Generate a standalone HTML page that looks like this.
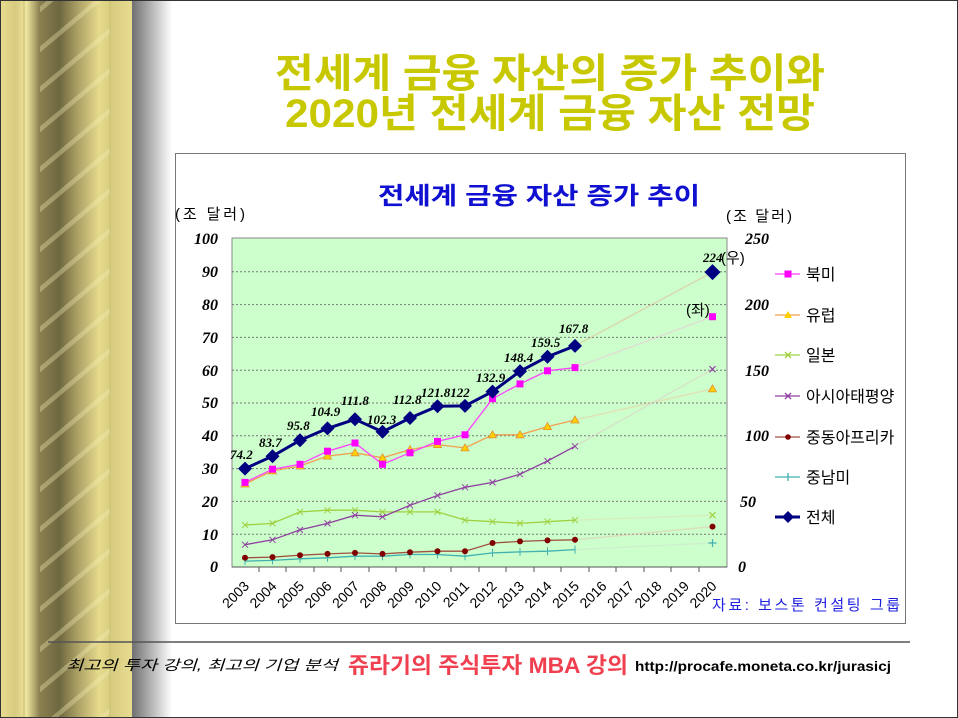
<!DOCTYPE html>
<html><head><meta charset="utf-8"><style>
html,body{margin:0;padding:0;width:958px;height:718px;overflow:hidden;background:#fff}
svg{display:block}
text{font-family:"Liberation Sans","Noto Sans CJK KR",sans-serif}
.it{font-family:"Liberation Serif","Noto Serif CJK SC",serif;font-style:italic;font-weight:bold;font-size:16px}
.lb{font-family:"Liberation Serif","Noto Serif CJK SC",serif;font-style:italic;font-weight:bold;font-size:13px}
.lg{font-size:16px;fill:#000}
</style></head><body>
<svg width="958" height="718" viewBox="0 0 958 718" xmlns="http://www.w3.org/2000/svg">
<defs>
<linearGradient id="gold" x1="0" x2="1" y1="0" y2="0">
<stop offset="0" stop-color="#e8dc90"/><stop offset="0.12" stop-color="#d8cb80"/>
<stop offset="0.2" stop-color="#f0e6a0"/><stop offset="0.3" stop-color="#8a8050"/>
<stop offset="0.45" stop-color="#6e6840"/><stop offset="0.6" stop-color="#b0a468"/>
<stop offset="0.75" stop-color="#e6da8c"/><stop offset="0.85" stop-color="#d8cc80"/>
<stop offset="1" stop-color="#e8dc90"/></linearGradient>
<linearGradient id="shd" x1="0" x2="1"><stop offset="0" stop-color="#707070"/><stop offset="1" stop-color="#ffffff"/></linearGradient>
<pattern id="stripe" width="60" height="40" patternUnits="userSpaceOnUse" patternTransform="skewY(-40)">
<rect x="0" y="0" width="60" height="6" fill="#f5eeb8" opacity="0.35"/></pattern>
</defs>
<rect x="0" y="0" width="132" height="718" fill="url(#gold)"/>
<rect x="40" y="0" width="70" height="718" fill="url(#stripe)"/>
<line x1="24" y1="0" x2="24" y2="718" stroke="#c8bc70" stroke-width="1"/>
<line x1="110" y1="0" x2="110" y2="718" stroke="#c8bc70" stroke-width="1"/>
<rect x="132" y="0" width="40" height="718" fill="url(#shd)"/>
<rect x="0.5" y="0.5" width="957" height="717" fill="none" stroke="#333"/>

<text x="275" y="87" textLength="550" lengthAdjust="spacingAndGlyphs" font-size="40" font-weight="bold" fill="#c8c800">전세계 금융 자산의 증가 추이와</text>
<text x="285" y="127" textLength="530" lengthAdjust="spacingAndGlyphs" font-size="40" font-weight="bold" fill="#c8c800">2020년 전세계 금융 자산 전망</text>

<rect x="175.5" y="153.5" width="730" height="470" fill="#fff" stroke="#777"/>
<text x="378" y="204" textLength="322" lengthAdjust="spacingAndGlyphs" font-size="24" font-weight="bold" fill="#1010d0" font-family="Noto Serif CJK SC,serif">전세계 금융 자산 증가 추이</text>
<text x="175" y="219" font-size="15" textLength="70" fill="#000">(조 달러)</text>
<text x="726" y="221" font-size="15" textLength="66" fill="#000">(조 달러)</text>

<rect x="232" y="238" width="495" height="329" fill="#ccffcc" stroke="#888"/>
<g stroke="#777" stroke-dasharray="2,2" stroke-width="1">
<line x1="232" x2="727" y1="271.8" y2="271.8"/><line x1="232" x2="727" y1="304.6" y2="304.6"/>
<line x1="232" x2="727" y1="337.4" y2="337.4"/><line x1="232" x2="727" y1="370.2" y2="370.2"/>
<line x1="232" x2="727" y1="403" y2="403"/><line x1="232" x2="727" y1="435.8" y2="435.8"/>
<line x1="232" x2="727" y1="468.6" y2="468.6"/><line x1="232" x2="727" y1="501.4" y2="501.4"/>
<line x1="232" x2="727" y1="534.2" y2="534.2"/></g>
<g stroke="#555"><line x1="232" y1="567" x2="727" y2="567"/>
<line x1="259" y1="567" x2="259" y2="572"/><line x1="286" y1="567" x2="286" y2="572"/><line x1="314" y1="567" x2="314" y2="572"/><line x1="341" y1="567" x2="341" y2="572"/><line x1="369" y1="567" x2="369" y2="572"/><line x1="396" y1="567" x2="396" y2="572"/><line x1="424" y1="567" x2="424" y2="572"/><line x1="451" y1="567" x2="451" y2="572"/><line x1="479" y1="567" x2="479" y2="572"/><line x1="506" y1="567" x2="506" y2="572"/><line x1="534" y1="567" x2="534" y2="572"/><line x1="561" y1="567" x2="561" y2="572"/><line x1="589" y1="567" x2="589" y2="572"/><line x1="616" y1="567" x2="616" y2="572"/><line x1="644" y1="567" x2="644" y2="572"/><line x1="671" y1="567" x2="671" y2="572"/><line x1="699" y1="567" x2="699" y2="572"/></g>

<g text-anchor="end">
<text x="218" y="244" class="it">100</text><text x="218" y="277" class="it">90</text><text x="218" y="310" class="it">80</text><text x="218" y="343" class="it">70</text><text x="218" y="376" class="it">60</text><text x="218" y="408" class="it">50</text><text x="218" y="441" class="it">40</text><text x="218" y="474" class="it">30</text><text x="218" y="507" class="it">20</text><text x="218" y="540" class="it">10</text><text x="218" y="572" class="it">0</text>
</g>
<g text-anchor="end">
<text x="769" y="244" class="it">250</text><text x="769" y="310" class="it">200</text><text x="769" y="376" class="it">150</text><text x="769" y="441" class="it">100</text><text x="756" y="507" class="it">50</text><text x="746" y="572" class="it">0</text>
</g>
<g font-size="14" fill="#000" text-anchor="end">
<text transform="translate(250,587) rotate(-45)">2003</text><text transform="translate(277.5,587) rotate(-45)">2004</text><text transform="translate(305,587) rotate(-45)">2005</text><text transform="translate(332.5,587) rotate(-45)">2006</text><text transform="translate(360,587) rotate(-45)">2007</text><text transform="translate(387.5,587) rotate(-45)">2008</text><text transform="translate(415,587) rotate(-45)">2009</text><text transform="translate(442.5,587) rotate(-45)">2010</text><text transform="translate(470,587) rotate(-45)">2011</text><text transform="translate(497.5,587) rotate(-45)">2012</text><text transform="translate(525,587) rotate(-45)">2013</text><text transform="translate(552.5,587) rotate(-45)">2014</text><text transform="translate(580,587) rotate(-45)">2015</text><text transform="translate(607.5,587) rotate(-45)">2016</text><text transform="translate(635,587) rotate(-45)">2017</text><text transform="translate(662.5,587) rotate(-45)">2018</text><text transform="translate(690,587) rotate(-45)">2019</text><text transform="translate(717.5,587) rotate(-45)">2020</text>
</g>
<text x="712" y="610" font-size="15" textLength="188" fill="#2020e0">자료: 보스톤 컨설팅 그룹</text>

<g stroke-width="1.5" opacity="0.5">
<line x1="575" y1="345.9" x2="712.5" y2="272.1" stroke="#e8b090"/>
<line x1="575" y1="367.6" x2="712.5" y2="316.7" stroke="#f0c0d8"/>
<line x1="575" y1="420" x2="712.5" y2="388.9" stroke="#f0c8a0"/>
<line x1="575" y1="520.1" x2="712.5" y2="515.2" stroke="#e0e0b0"/>
<line x1="575" y1="446.3" x2="712.5" y2="369.2" stroke="#e0c8c8"/>
<line x1="575" y1="539.8" x2="712.5" y2="526.6" stroke="#e8c0b0"/>
<line x1="575" y1="549.6" x2="712.5" y2="543" stroke="#d0e0d0"/>
</g>

<polyline fill="none" stroke="#40b0b0" stroke-width="1.3" points="245,561.1 272.5,560.4 300,558.8 327.5,557.8 355,556.2 382.5,556.2 410,554.5 437.5,554.5 465,556.2 492.5,552.9 520,551.9 547.5,551.2 575,549.6"/>
<g stroke="#40b0b0" stroke-width="1"><path d="M245,557v8M272.5,556.4v8M300,554.8v8M327.5,553.8v8M355,552.2v8M382.5,552.2v8M410,550.5v8M437.5,550.5v8M465,552.2v8M492.5,548.9v8M520,547.9v8M547.5,547.2v8M575,545.6v8"/></g>
<polyline fill="none" stroke="#a05040" stroke-width="1.3" points="245,557.8 272.5,557.1 300,555.2 327.5,553.9 355,552.9 382.5,553.9 410,552.2 437.5,551.2 465,551.2 492.5,543 520,541.4 547.5,540.4 575,539.8"/>
<g fill="#800000"><circle cx="245" cy="557.8" r="3"/><circle cx="272.5" cy="557.1" r="3"/><circle cx="300" cy="555.2" r="3"/><circle cx="327.5" cy="553.9" r="3"/><circle cx="355" cy="552.9" r="3"/><circle cx="382.5" cy="553.9" r="3"/><circle cx="410" cy="552.2" r="3"/><circle cx="437.5" cy="551.2" r="3"/><circle cx="465" cy="551.2" r="3"/><circle cx="492.5" cy="543" r="3"/><circle cx="520" cy="541.4" r="3"/><circle cx="547.5" cy="540.4" r="3"/><circle cx="575" cy="539.8" r="3"/><circle cx="712.5" cy="526.6" r="3"/></g>
<polyline fill="none" stroke="#a0d040" stroke-width="1.3" points="245,525 272.5,523.4 300,511.9 327.5,510.2 355,510.2 382.5,511.9 410,511.9 437.5,511.9 465,520.1 492.5,521.7 520,523.4 547.5,521.7 575,520.1"/>
<g stroke="#a0d040" stroke-width="1"><path d="M242,522l6,6M248,522l-6,6M269.5,520.4l6,6M275.5,520.4l-6,6M297,508.9l6,6M303,508.9l-6,6M324.5,507.2l6,6M330.5,507.2l-6,6M352,507.2l6,6M358,507.2l-6,6M379.5,508.9l6,6M385.5,508.9l-6,6M407,508.9l6,6M413,508.9l-6,6M434.5,508.9l6,6M440.5,508.9l-6,6M462,517.1l6,6M468,517.1l-6,6M489.5,518.7l6,6M495.5,518.7l-6,6M517,520.4l6,6M523,520.4l-6,6M544.5,518.7l6,6M550.5,518.7l-6,6M572,517.1l6,6M578,517.1l-6,6"/></g>
<polyline fill="none" stroke="#9040a0" stroke-width="1.3" points="245,544.7 272.5,539.8 300,529.9 327.5,523.4 355,515.2 382.5,516.8 410,505.3 437.5,495.5 465,487.3 492.5,482.4 520,474.2 547.5,461 575,446.3"/>
<g stroke="#9040a0" stroke-width="1"><path d="M242,541.7l6,6M248,541.7l-6,6M269.5,536.8l6,6M275.5,536.8l-6,6M297,526.9l6,6M303,526.9l-6,6M324.5,520.4l6,6M330.5,520.4l-6,6M352,512.2l6,6M358,512.2l-6,6M379.5,513.8l6,6M385.5,513.8l-6,6M407,502.3l6,6M413,502.3l-6,6M434.5,492.5l6,6M440.5,492.5l-6,6M462,484.3l6,6M468,484.3l-6,6M489.5,479.4l6,6M495.5,479.4l-6,6M517,471.2l6,6M523,471.2l-6,6M544.5,458l6,6M550.5,458l-6,6M572,443.3l6,6M578,443.3l-6,6"/></g>
<polyline fill="none" stroke="#f0a050" stroke-width="1.3" points="245,484 272.5,470.9 300,466 327.5,456.1 355,452.8 382.5,457.8 410,449.6 437.5,444.6 465,447.9 492.5,434.8 520,434.8 547.5,426.6 575,420"/>
<g fill="#ffd000" stroke="#e09030" stroke-width="0.8"><path d="M245,480l4,7h-8z"/><path d="M272.5,466.9l4,7h-8z"/><path d="M300,462l4,7h-8z"/><path d="M327.5,452.1l4,7h-8z"/><path d="M355,448.8l4,7h-8z"/><path d="M382.5,453.8l4,7h-8z"/><path d="M410,445.6l4,7h-8z"/><path d="M437.5,440.6l4,7h-8z"/><path d="M465,443.9l4,7h-8z"/><path d="M492.5,430.8l4,7h-8z"/><path d="M520,430.8l4,7h-8z"/><path d="M547.5,422.6l4,7h-8z"/><path d="M575,416l4,7h-8z"/><path d="M712.5,384.9l4,7h-8z"/></g>
<polyline fill="none" stroke="#ff40ff" stroke-width="1.3" points="245,482.4 272.5,469.2 300,464.3 327.5,451.2 355,443 382.5,464.3 410,452.8 437.5,441.4 465,434.8 492.5,398.7 520,383.9 547.5,370.8 575,367.6"/>
<g fill="#ff00ff"><rect x="241.5" y="478.9" width="7" height="7"/><rect x="269" y="465.7" width="7" height="7"/><rect x="296.5" y="460.8" width="7" height="7"/><rect x="324" y="447.7" width="7" height="7"/><rect x="351.5" y="439.5" width="7" height="7"/><rect x="379" y="460.8" width="7" height="7"/><rect x="406.5" y="449.3" width="7" height="7"/><rect x="434" y="437.9" width="7" height="7"/><rect x="461.5" y="431.3" width="7" height="7"/><rect x="489" y="395.2" width="7" height="7"/><rect x="516.5" y="380.4" width="7" height="7"/><rect x="544" y="367.3" width="7" height="7"/><rect x="571.5" y="364.1" width="7" height="7"/><rect x="709" y="313.2" width="7" height="7"/></g>
<g stroke="#a0d040" stroke-width="1.2"><path d="M709.5,512.2l6,6M715.5,512.2l-6,6"/></g>
<g stroke="#9040a0" stroke-width="1.2"><path d="M709.5,366.2l6,6M715.5,366.2l-6,6"/></g>
<g stroke="#40b0b0" stroke-width="1.2"><path d="M712.5,539v8M708.5,543h8"/></g>
<polyline fill="none" stroke="#000080" stroke-width="3" points="245,468.6 272.5,456.2 300,440.3 327.5,428.4 355,419.3 382.5,431.8 410,418 437.5,406.2 465,405.9 492.5,391.6 520,371.3 547.5,356.7 575,345.9"/>
<g fill="#000080"><path d="M245,461.6l7,7-7,7-7-7z"/><path d="M272.5,449.2l7,7-7,7-7-7z"/><path d="M300,433.3l7,7-7,7-7-7z"/><path d="M327.5,421.4l7,7-7,7-7-7z"/><path d="M355,412.3l7,7-7,7-7-7z"/><path d="M382.5,424.8l7,7-7,7-7-7z"/><path d="M410,411l7,7-7,7-7-7z"/><path d="M437.5,399.2l7,7-7,7-7-7z"/><path d="M465,398.9l7,7-7,7-7-7z"/><path d="M492.5,384.6l7,7-7,7-7-7z"/><path d="M520,364.3l7,7-7,7-7-7z"/><path d="M547.5,349.7l7,7-7,7-7-7z"/><path d="M575,338.9l7,7-7,7-7-7z"/><path d="M712.5,264.1l8,8-8,8-8-8z"/></g>
<g fill="#000">
<text x="230" y="459" class="lb">74.2</text><text x="259" y="447" class="lb">83.7</text><text x="287" y="430" class="lb">95.8</text><text x="311" y="416" class="lb">104.9</text><text x="341" y="405" class="lb">111.8</text><text x="367" y="424" class="lb">102.3</text><text x="393" y="404" class="lb">112.8</text><text x="421" y="397" class="lb">121.8122</text><text x="476" y="382" class="lb">132.9</text><text x="504" y="362" class="lb">148.4</text><text x="531" y="347" class="lb">159.5</text><text x="559" y="333" class="lb">167.8</text><text x="703" y="262" class="lb">224</text>
</g>
<text x="721" y="263" font-size="15" fill="#000">(우)</text>
<text x="686" y="315" font-size="15" fill="#000">(좌)</text>

<g stroke-width="1.3">
<line x1="775" y1="274" x2="800" y2="274" stroke="#ff40ff"/><rect x="784.5" y="270.5" width="7" height="7" fill="#ff00ff"/>
<line x1="775" y1="315" x2="800" y2="315" stroke="#f0a050"/><path d="M788,311l4,7h-8z" fill="#ffd000"/>
<line x1="775" y1="355" x2="800" y2="355" stroke="#a0d040"/><path d="M785,352l6,6M791,352l-6,6" stroke="#a0d040"/>
<line x1="775" y1="396" x2="800" y2="396" stroke="#9040a0"/><path d="M785,393l6,6M791,393l-6,6" stroke="#9040a0"/>
<line x1="775" y1="437" x2="800" y2="437" stroke="#a05040"/><circle cx="788" cy="437" r="2.8" fill="#800000"/>
<line x1="775" y1="477" x2="800" y2="477" stroke="#40b0b0"/><path d="M788,473v8" stroke="#40b0b0"/>
<line x1="775" y1="517" x2="800" y2="517" stroke="#000080" stroke-width="3"/><path d="M788,511l6,6-6,6-6-6z" fill="#000080"/>
</g>
<g>
<text x="806" y="280" class="lg">북미</text><text x="806" y="321" class="lg">유럽</text><text x="806" y="361" class="lg">일본</text><text x="806" y="402" class="lg">아시아태평양</text><text x="806" y="443" class="lg">중동아프리카</text><text x="806" y="483" class="lg">중남미</text><text x="806" y="523" class="lg">전체</text>
</g>

<line x1="48" y1="642" x2="910" y2="642" stroke="#555" stroke-width="1.5"/>
<text x="66" y="670" font-size="14" font-style="italic" textLength="272" lengthAdjust="spacingAndGlyphs" fill="#000">최고의 투자 강의, 최고의 기업 분석</text>
<text x="348" y="673" font-size="22" font-weight="bold" textLength="280" lengthAdjust="spacingAndGlyphs" fill="#f04050">쥬라기의 주식투자 MBA 강의</text>
<text x="635" y="671" font-size="14" font-weight="bold" textLength="256" lengthAdjust="spacingAndGlyphs" fill="#000">http://procafe.moneta.co.kr/jurasicj</text>
</svg>
</body></html>
